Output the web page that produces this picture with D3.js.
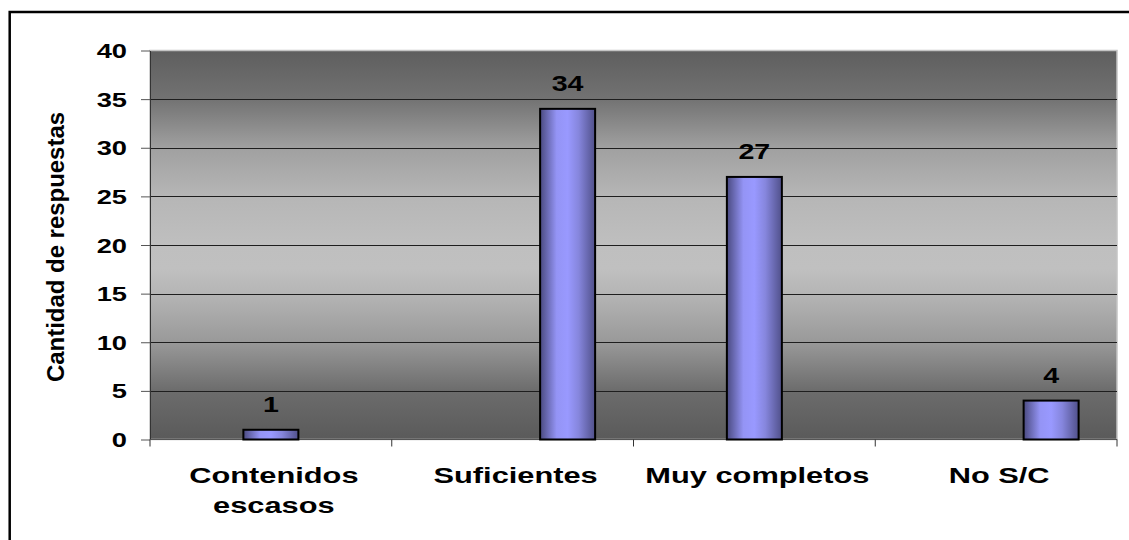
<!DOCTYPE html>
<html>
<head>
<meta charset="utf-8">
<script src="https://cdn.jsdelivr.net/npm/d3@7"></script>
<style>
  body { margin: 0; background: #fff; }
  text { font-family: "Liberation Sans", Arial, sans-serif; font-weight: bold; fill: #000; }
</style>
</head>
<body>
<div id="chart"></div>
<script>
// categorias, valores y la posicion de la barra dentro de cada grupo
var categories = ['Contenidos escasos', 'Suficientes', 'Muy completos', 'No S/C']
var labelLines = [['Contenidos', 'escasos'], ['Suficientes'], ['Muy completos'], ['No S/C']]
var values = [1, 34, 27, 4]
var barSlot = [1, 2, 1, 2]
var yTicks = [0, 5, 10, 15, 20, 25, 30, 35, 40]
var yTitle = 'Cantidad de respuestas'

var width = 1129
var height = 540
var plot = { left: 150, right: 1117, top: 50.5, bottom: 439.5 }
var stretch = 1.4

var svg = d3.select('#chart')
    .append('svg')
    .attr('width', width)
    .attr('height', height)

var defs = svg.append('defs')

var bg = defs.append('linearGradient')
    .attr('id', 'bg')
    .attr('x1', 0).attr('y1', 0).attr('x2', 0).attr('y2', 1)
var bgStops = [[0, '#5e5e5e'], [0.124, '#727272'], [0.25, '#a0a0a0'], [0.375, '#b6b6b6'],
    [0.5, '#bfbfbf'], [0.56, '#c0c0c0'], [0.625, '#b5b5b5'], [0.75, '#999999'],
    [0.875, '#6c6c6c'], [1, '#5a5a5a']]
bgStops.forEach(function (s) {
    bg.append('stop').attr('offset', s[0]).attr('stop-color', s[1])
})

var barGrad = defs.append('linearGradient')
    .attr('id', 'barGrad')
    .attr('x1', 0).attr('y1', 0).attr('x2', 1).attr('y2', 0)
var barStops = [[0, '#4a4a80'], [0.3, '#9494f5'], [0.5, '#9999ff'], [0.7, '#8686dd'], [1, '#50508a']]
barStops.forEach(function (s) {
    barGrad.append('stop').attr('offset', s[0]).attr('stop-color', s[1])
})

// outer frame
svg.append('rect')
    .attr('x', 9.7)
    .attr('y', 12)
    .attr('width', 1140)
    .attr('height', 560)
    .attr('fill', 'none')
    .attr('stroke', '#000')
    .attr('stroke-width', 2.5)

var x = d3.scaleBand()
    .domain(categories)
    .range([plot.left, plot.right])

var slot = d3.scaleBand()
    .domain([0, 1, 2])
    .range([0, x.bandwidth()])
    .paddingOuter(0.698)

var y = d3.scaleLinear()
    .domain([0, 40])
    .range([plot.bottom, plot.top])

// plot area
svg.append('rect')
    .attr('x', plot.left)
    .attr('y', plot.top)
    .attr('width', plot.right - plot.left)
    .attr('height', plot.bottom - plot.top)
    .attr('fill', 'url(#bg)')
    .attr('stroke', '#c4c4c4')
    .attr('stroke-width', 1.5)

// gridlines
svg.append('g')
    .selectAll('line')
    .data(yTicks.filter(function (d) { return d > 0 && d < 40 }))
    .enter()
    .append('line')
    .attr('x1', plot.left)
    .attr('x2', plot.right)
    .attr('y1', function (d) { return Math.round(y(d)) + 0.5 })
    .attr('y2', function (d) { return Math.round(y(d)) + 0.5 })
    .attr('stroke', '#1e1e1e')
    .attr('stroke-width', 1)

// y axis
var yAxis = svg.append('g')
    .attr('transform', 'translate(' + plot.left + ',0)')
    .call(d3.axisLeft(y).tickValues(yTicks).tickSize(9).tickSizeOuter(0))

yAxis.select('.domain').attr('stroke', '#333')
yAxis.selectAll('.tick line').attr('stroke', '#555')
yAxis.selectAll('.tick text')
    .attr('x', 0)
    .attr('dy', '0.36em')
    .attr('font-size', 19.5)
    .attr('transform', 'translate(-23,0) scale(' + stretch + ',1)')

// x axis
svg.append('line')
    .attr('x1', plot.left)
    .attr('x2', plot.right)
    .attr('y1', plot.bottom)
    .attr('y2', plot.bottom)
    .attr('stroke', '#555')

var edges = categories.map(function (c) { return x(c) }).concat([plot.right])
svg.append('g')
    .selectAll('line')
    .data(edges)
    .enter()
    .append('line')
    .attr('x1', function (d) { return d })
    .attr('x2', function (d) { return d })
    .attr('y1', plot.bottom)
    .attr('y2', plot.bottom + 7)
    .attr('stroke', '#333')

var xLabels = svg.append('g')
    .selectAll('g')
    .data(categories)
    .enter()
    .append('g')
    .attr('transform', function (d) {
        return 'translate(' + (x(d) + x.bandwidth() / 2 + 3) + ',483) scale(' + stretch + ',1)'
    })

xLabels.append('text')
    .attr('text-anchor', 'middle')
    .attr('font-size', 22)
    .selectAll('tspan')
    .data(function (d, i) { return labelLines[i] })
    .enter()
    .append('tspan')
    .attr('x', 0)
    .attr('dy', function (d, i) { return i === 0 ? 0 : 30.5 })
    .text(function (d) { return d })

// bars
var bars = svg.append('g')
    .selectAll('rect')
    .data(values)
    .enter()

bars.append('rect')
    .attr('x', function (d, i) { return x(categories[i]) + slot(barSlot[i]) })
    .attr('y', function (d) { return y(d) })
    .attr('width', slot.bandwidth())
    .attr('height', function (d) { return y(0) - y(d) })
    .attr('fill', 'url(#barGrad)')
    .attr('stroke', '#000')
    .attr('stroke-width', 2)

bars.append('text')
    .attr('text-anchor', 'middle')
    .attr('font-size', 22)
    .attr('transform', function (d, i) {
        var cx = x(categories[i]) + slot(barSlot[i]) + slot.bandwidth() / 2
        return 'translate(' + cx + ',' + (y(d) - 18) + ') scale(1.3,1)'
    })
    .text(function (d) { return d })

// y title
svg.append('text')
    .attr('text-anchor', 'middle')
    .attr('font-size', 23.5)
    .attr('textLength', 270)
    .attr('lengthAdjust', 'spacingAndGlyphs')
    .attr('transform', 'translate(63.5,247) rotate(-90)')
    .text(yTitle)
</script>
</body>
</html>
